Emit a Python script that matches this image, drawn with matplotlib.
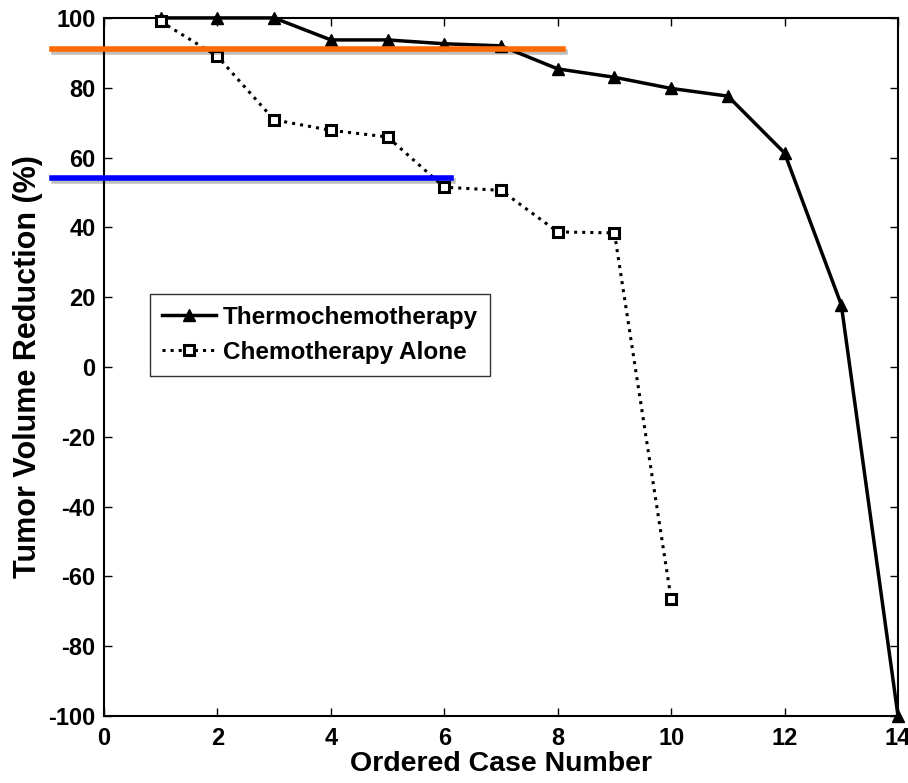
import matplotlib
matplotlib.use('Agg')
import matplotlib.pyplot as plt
import matplotlib.patheffects as pe

plt.rcParams['font.family'] = ['Liberation Sans', 'DejaVu Sans']
plt.rcParams['font.weight'] = 'bold'
plt.rcParams['axes.unicode_minus'] = False

# case numbers and tumor volume reduction (%)
case_thermo = [1, 2, 3, 4, 5, 6, 7, 8, 9, 10, 11, 12, 13, 14]
thermo = [100, 100, 100, 93.7, 93.7, 92.6, 92, 85.4, 83, 79.8, 77.6, 61.3, 17.8, -100]

case_chemo = [1, 2, 3, 4, 5, 6, 7, 8, 9, 10]
chemo = [99, 89, 70.8, 67.8, 65.9, 51.5, 50.6, 38.7, 38.4, -66.5]

# mean reference lines (drawn over the plot)
thermo_mean = 91.1
chemo_mean = 54.2

fig = plt.figure(figsize=(9.08, 7.83), dpi=100)
ax = fig.add_axes([0.1145, 0.0856, 0.8745, 0.8915])

ax.plot(case_thermo, thermo, '-', color='black', lw=2.5, marker='^',
        ms=8, mfc='black', mec='black', label='Thermochemotherapy', clip_on=False, zorder=3)
ax.plot(case_chemo, chemo, ':', color='black', lw=2.2, marker='s',
        ms=7, mfc='white', mec='black', mew=2.2, label='Chemotherapy Alone', clip_on=False, zorder=3)

shadow = [pe.SimpleLineShadow(offset=(1.5, -2), alpha=0.25), pe.Normal()]
ax.plot([-0.92, 8.1], [thermo_mean, thermo_mean], color='#ff6a00', lw=4,
        clip_on=False, zorder=4, path_effects=shadow)
ax.plot([-0.92, 6.12], [chemo_mean, chemo_mean], color='#0000ff', lw=4,
        clip_on=False, zorder=4, path_effects=shadow)

ax.set_xlim(0, 14)
ax.set_ylim(-100, 100)
ax.set_xticks(range(0, 15, 2))
ax.set_yticks(range(-100, 101, 20))
ax.tick_params(direction='in', top=True, right=True, labelsize=17, length=6, width=1)
ax.tick_params(axis='x', pad=8)
ax.tick_params(axis='y', pad=6)
for s in ax.spines.values():
    s.set_linewidth(1.5)

ax.set_xlabel('Ordered Case Number', fontsize=20.5, fontweight='bold', labelpad=1)
ax.set_ylabel('Tumor Volume Reduction (%)', fontsize=22, fontweight='bold', labelpad=4)

leg = ax.legend(loc='upper left', bbox_to_anchor=(0.058, 0.605), fontsize=17.5,
                frameon=True, fancybox=False, edgecolor='black', handlelength=2.2,
                borderpad=0.5, labelspacing=0.5, handletextpad=0.3, borderaxespad=0)
leg.get_frame().set_linewidth(1.0)

fig.savefig('out.png', dpi=100)
